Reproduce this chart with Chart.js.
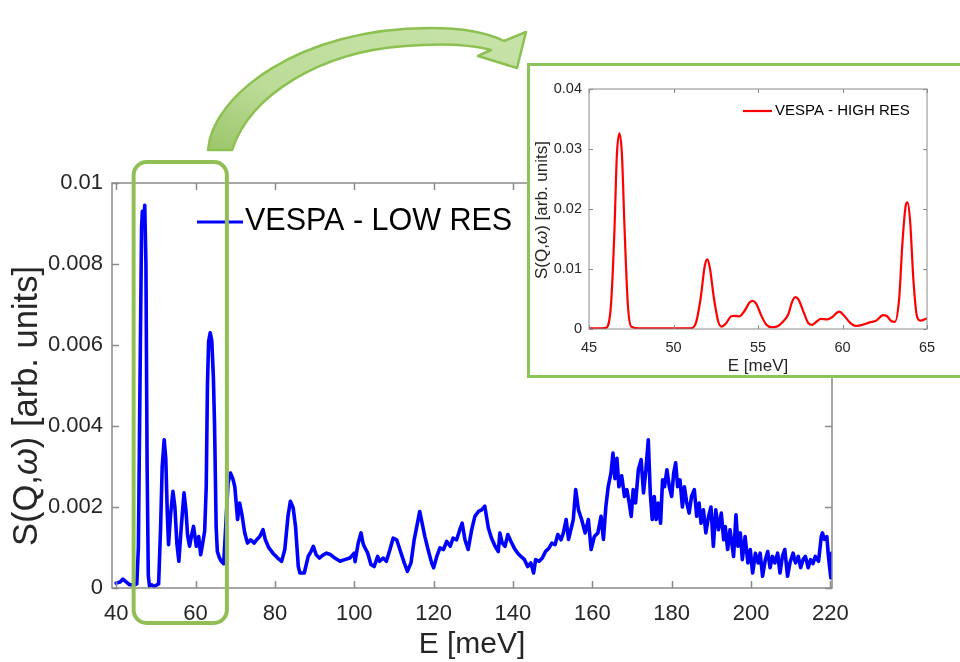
<!DOCTYPE html>
<html><head><meta charset="utf-8">
<script src="https://cdn.jsdelivr.net/npm/chart.js@4.4.1/dist/chart.umd.min.js"></script>
<style>
html,body{margin:0;padding:0;background:#fff;}
#wrap{position:relative;width:960px;height:662px;overflow:hidden;background:#fff;}
#main{position:absolute;left:0;top:0;}
#arrow{position:absolute;left:0;top:0;pointer-events:none;}
#insetBox{position:absolute;left:527px;top:63px;width:436px;height:315px;box-sizing:border-box;border:3px solid #8dc457;background:#fff;}
#inset{position:absolute;left:0;top:0;}
</style></head>
<body><div id="wrap">
<canvas id="main" width="960" height="662"></canvas>
<svg id="arrow" width="960" height="662">
  <defs>
    <linearGradient id="ag" x1="0" y1="1" x2="1" y2="0">
      <stop offset="0" stop-color="#9cc56a"/>
      <stop offset="0.35" stop-color="#bcdc98"/>
      <stop offset="1" stop-color="#c8e3aa"/>
    </linearGradient>
  </defs>
  <path d="M208 150 C212 95 300 28 430 28 C466 28 490 34 504 41 L526 32 L517 68 L478 56 L491 50 C465 43 430 44 405 46 C320 52 250 95 232 150 Z"
        fill="url(#ag)" stroke="#8cc152" stroke-width="2.5" stroke-linejoin="round"/>
</svg>
<div id="insetBox"><canvas id="inset" width="430" height="309"></canvas></div>
</div>
<script>
// ---------- data: low-resolution spectrum (main plot) ----------
const eLow = [40.0,41.0,41.7,42.5,43.4,44.7,45.2,45.6,46.0,46.4,46.6,46.9,47.2,47.5,47.8,48.1,48.4,49.0,49.6,50.3,50.7,51.2,51.6,52.1,52.5,52.9,53.2,53.7,54.3,54.8,55.3,55.8,56.4,57.1,57.6,58.0,58.5,59.0,59.5,60.2,60.8,61.3,61.8,62.3,62.7,63.0,63.3,63.7,64.1,64.5,64.8,65.2,65.5,66.0,66.5,67.1,67.6,68.2,68.8,69.4,69.9,70.6,71.1,71.7,72.4,73.1,73.9,74.8,75.4,76.2,77.0,77.6,78.5,79.5,80.7,81.7,82.5,83.3,83.9,84.6,85.2,85.9,86.3,87.4,88.4,89.1,89.7,90.4,91.2,92.2,93.0,94.1,95.1,96.4,97.6,98.9,100.0,100.2,101.0,101.7,102.2,102.5,103.4,104.2,105.0,105.9,106.4,107.3,108.1,109.0,109.8,110.7,111.5,112.6,113.4,114.3,115.1,116.0,116.5,117.1,117.8,118.6,119.5,120.0,120.8,121.6,122.5,123.3,124.2,124.9,125.8,126.6,127.2,127.9,128.7,129.6,130.4,131.3,132.1,132.9,133.8,134.6,135.5,136.3,136.7,137.3,138.0,138.7,139.5,140.3,141.2,142.0,142.9,143.7,144.5,145.2,145.7,146.6,147.4,148.2,149.1,149.8,150.6,151.3,152.1,152.7,153.4,154.0,154.6,155.2,155.8,156.5,157.3,158.2,159.0,159.7,160.5,161.4,162.2,162.8,163.4,164.0,164.7,165.2,165.7,166.2,166.7,167.4,168.1,168.7,169.3,169.8,170.3,170.9,171.6,172.3,172.9,173.5,174.1,174.6,175.1,175.6,176.1,176.6,177.2,177.7,178.2,178.8,179.4,180.0,180.5,181.0,181.5,182.1,182.7,183.2,183.8,184.4,185.0,185.7,186.3,186.9,187.4,188.0,188.6,189.3,189.9,190.5,191.1,191.8,192.5,193.1,193.5,194.1,194.7,195.6,196.2,196.7,197.3,197.8,198.5,199.2,199.8,200.4,201.1,201.8,202.3,202.9,203.6,204.2,204.8,205.4,206.0,206.7,207.3,207.9,208.5,209.2,209.8,210.6,211.2,211.9,212.5,213.1,213.7,214.4,215.0,215.6,216.2,217.0,217.4,217.7,218.0,218.5,219.1,219.5,220.1,220.3];
const sLow = [0.00012,0.00015,0.00022,0.00015,0.00008,0.00008,0.0001,0.001,0.005,0.0089,0.0093,0.009,0.00945,0.008,0.003,0.0003,0.00005,0.00008,0.00003,0.00008,0.0001,0.0015,0.003,0.00366,0.0032,0.0018,0.00107,0.0018,0.00239,0.002,0.0011,0.00066,0.0015,0.00235,0.0019,0.0013,0.00103,0.0013,0.00152,0.00103,0.00127,0.00082,0.0011,0.0014,0.0025,0.005,0.00609,0.0063,0.0061,0.0052,0.004,0.0015,0.0009,0.00075,0.00066,0.0006,0.0015,0.0026,0.00284,0.0027,0.0025,0.00169,0.0021,0.00181,0.00136,0.00111,0.00119,0.00111,0.00119,0.00127,0.00144,0.00119,0.00099,0.00086,0.00074,0.00066,0.00095,0.00177,0.00214,0.00198,0.00152,0.00053,0.00037,0.00037,0.00078,0.0009,0.00103,0.00082,0.00074,0.00082,0.00086,0.00082,0.00074,0.00066,0.0007,0.00074,0.00086,0.00065,0.00111,0.00136,0.00111,0.00103,0.00086,0.00058,0.00053,0.00078,0.00066,0.00074,0.00066,0.00095,0.00123,0.00119,0.00095,0.00062,0.00041,0.00062,0.00119,0.00164,0.00189,0.0016,0.00127,0.00095,0.00062,0.0005,0.00078,0.00099,0.00095,0.00115,0.00103,0.00123,0.00119,0.00144,0.0016,0.00119,0.00095,0.00144,0.00177,0.00189,0.00193,0.00202,0.00148,0.00123,0.00103,0.0009,0.00136,0.00111,0.00103,0.00132,0.00115,0.00099,0.00086,0.00078,0.0007,0.00053,0.00062,0.00037,0.0007,0.00066,0.00074,0.0009,0.00099,0.00111,0.00107,0.00132,0.00119,0.00136,0.00169,0.0012,0.00144,0.00169,0.00243,0.00193,0.00169,0.00136,0.00169,0.00095,0.00127,0.00136,0.00177,0.0012,0.002,0.0025,0.00284,0.00333,0.0027,0.0032,0.0025,0.00277,0.00226,0.00243,0.0021,0.00177,0.00243,0.0021,0.00292,0.00317,0.00235,0.00292,0.00366,0.00235,0.00169,0.00226,0.00169,0.0021,0.0016,0.00267,0.0025,0.00292,0.0025,0.00226,0.00284,0.00309,0.0025,0.00267,0.002,0.0025,0.0021,0.00185,0.00226,0.00243,0.00177,0.0021,0.0016,0.00193,0.00136,0.00177,0.002,0.00103,0.00193,0.00144,0.00185,0.00119,0.00152,0.00095,0.00144,0.00078,0.00181,0.00103,0.00136,0.0007,0.00127,0.00062,0.00095,0.00037,0.00086,0.00062,0.00086,0.00029,0.0007,0.0009,0.0005,0.00078,0.00062,0.00086,0.00037,0.00078,0.00095,0.00029,0.00062,0.00086,0.00062,0.00078,0.0005,0.0007,0.00078,0.0005,0.0007,0.0006,0.00078,0.00066,0.001,0.00127,0.00136,0.0012,0.00127,0.00078,0.00025,0.00086];
// ---------- data: high-resolution spectrum (inset) ----------
const eHigh = [45.0,45.5,46.0,46.3,46.5,46.65,46.8,46.95,47.1,47.3,47.5,48.0,49.0,50.0,51.0,51.3,51.6,51.85,52.0,52.15,52.4,52.65,52.85,53.1,53.4,53.6,53.9,54.2,54.5,54.7,54.9,55.2,55.5,55.8,56.1,56.5,56.8,57.0,57.2,57.4,57.7,58.0,58.2,58.5,58.7,59.1,59.4,59.8,60.1,60.5,60.8,61.2,61.6,62.0,62.4,62.6,62.9,63.1,63.35,63.55,63.75,63.85,64.0,64.2,64.4,64.6,65.0];
const sHigh = [0.0001,0.0001,0.0002,0.004,0.016,0.029,0.0326,0.029,0.017,0.004,0.0004,0.0001,0.0001,0.0001,0.0001,0.0008,0.005,0.0105,0.0116,0.0102,0.005,0.0012,0.0004,0.0009,0.0021,0.0022,0.0021,0.003,0.0044,0.0047,0.0042,0.0022,0.0007,0.0003,0.0004,0.0013,0.0025,0.0044,0.0053,0.0049,0.0028,0.0009,0.0007,0.0013,0.0017,0.0016,0.002,0.0029,0.0022,0.0009,0.0005,0.0007,0.0011,0.0014,0.0023,0.0022,0.0013,0.0012,0.005,0.0145,0.0207,0.0211,0.018,0.008,0.0022,0.0014,0.0018];
// ---------- ticks, labels ----------
const xTicksMain = [40,60,80,100,120,140,160,180,200,220];
const yTicksMain = [0,0.002,0.004,0.006,0.008,0.01];
const xTicksInset = [45,50,55,60,65];
const yTicksInset = [0,0.01,0.02,0.03,0.04];
const zoomWindow = [44.4, 67.9]; // energy range highlighted by the green box
const labelLow = 'VESPA - LOW RES';
const labelHigh = 'VESPA - HIGH RES';
const xTitle = 'E [meV]';

const FAM = '"Liberation Sans", Arial, Helvetica, sans-serif';
const TXT = '#262626';
const AX = '#8a8a8a';

function fmt(v){ return String(+v.toFixed(4)); }

// Plugin: MATLAB-like box, inward ticks, legend, titles, highlight box
const decor = {
  id: 'decor',
  afterDraw(chart, args, o) {
    const {ctx, chartArea: a, scales: {x, y}} = chart;
    ctx.save();
    ctx.strokeStyle = AX; ctx.lineWidth = o.axW;
    ctx.strokeRect(a.left, a.top, a.right - a.left, a.bottom - a.top);
    ctx.beginPath();
    x.ticks.forEach(t => { const p = Math.round(x.getPixelForValue(t.value)) + 0.5;
      ctx.moveTo(p, a.bottom); ctx.lineTo(p, a.bottom - o.tl);
      ctx.moveTo(p, a.top); ctx.lineTo(p, a.top + o.tl); });
    y.ticks.forEach(t => { const p = Math.round(y.getPixelForValue(t.value)) + 0.5;
      ctx.moveTo(a.left, p); ctx.lineTo(a.left + o.tl, p);
      ctx.moveTo(a.right, p); ctx.lineTo(a.right - o.tl, p); });
    ctx.stroke();
    // legend
    const ds = chart.data.datasets[0];
    ctx.strokeStyle = ds.borderColor; ctx.lineWidth = o.leg.lw;
    ctx.beginPath(); ctx.moveTo(o.leg.x1, o.leg.y); ctx.lineTo(o.leg.x2, o.leg.y); ctx.stroke();
    ctx.fillStyle = '#000'; ctx.font = o.leg.size + 'px ' + FAM;
    ctx.textBaseline = 'middle'; ctx.textAlign = 'left';
    ctx.fillText(ds.label, o.leg.x2 + o.leg.gap, o.leg.y);
    // x title
    ctx.fillStyle = TXT; ctx.textAlign = 'center';
    ctx.font = o.xt.size + 'px ' + FAM;
    ctx.fillText(xTitle, (a.left + a.right) / 2, o.xt.y);
    // y title with italic omega
    ctx.save();
    ctx.translate(o.yt.x, o.yt.y); ctx.rotate(-Math.PI / 2);
    const parts = [['S(Q,', ''], ['\u03c9', 'italic '], [') [arb. units]', '']];
    let w = 0;
    parts.forEach(p => { ctx.font = p[1] + o.yt.size + 'px ' + FAM; w += ctx.measureText(p[0]).width; });
    let cx = -w / 2; ctx.textAlign = 'left';
    parts.forEach(p => { ctx.font = p[1] + o.yt.size + 'px ' + FAM; ctx.fillText(p[0], cx, 0); cx += ctx.measureText(p[0]).width; });
    ctx.restore();
    // highlight box
    if (o.hl) {
      const x1 = x.getPixelForValue(zoomWindow[0]), x2 = x.getPixelForValue(zoomWindow[1]);
      const y1 = a.top - o.hl.above, y2 = a.bottom + o.hl.below, r = o.hl.r;
      ctx.strokeStyle = o.hl.color; ctx.lineWidth = o.hl.w;
      ctx.beginPath();
      ctx.moveTo(x1 + r, y1); ctx.lineTo(x2 - r, y1); ctx.arcTo(x2, y1, x2, y1 + r, r);
      ctx.lineTo(x2, y2 - r); ctx.arcTo(x2, y2, x2 - r, y2, r);
      ctx.lineTo(x1 + r, y2); ctx.arcTo(x1, y2, x1, y2 - r, r);
      ctx.lineTo(x1, y1 + r); ctx.arcTo(x1, y1, x1 + r, y1, r);
      ctx.closePath(); ctx.stroke();
    }
    ctx.restore();
  }
};

function axisCommon(ticksArr, size, pad, fit, isX) {
  return {
    type: 'linear',
    afterBuildTicks: s => { s.ticks = ticksArr.map(v => ({value: v})); },
    afterFit: s => { if (isX) s.height = fit; else s.width = fit; },
    grid: {display: false, drawTicks: false},
    border: {display: false},
    ticks: {padding: pad, color: TXT, font: {family: FAM, size: size}, maxRotation: 0, autoSkip: false,
            callback: v => fmt(v)}
  };
}

const mainX = axisCommon(xTicksMain, 22, 13, 74, true); mainX.min = 38.95; mainX.max = 220.4;
const mainY = axisCommon(yTicksMain, 22, 9, 112, false); mainY.min = 0; mainY.max = 0.01;

new Chart(document.getElementById('main'), {
  type: 'line',
  data: {datasets: [{label: labelLow, data: eLow.map((e, i) => ({x: e, y: sLow[i]})),
    borderColor: '#0000ff', borderWidth: 3.6, borderJoinStyle: 'round', borderCapStyle: 'round',
    pointRadius: 0, tension: 0, fill: false}]},
  options: {
    responsive: false, animation: false, devicePixelRatio: 1,
    layout: {padding: {left: 0, top: 183, right: 128, bottom: 0}},
    plugins: {legend: {display: false}, tooltip: {enabled: false},
      decor: {axW: 1.5, tl: 7,
        leg: {x1: 197, x2: 243, y: 222, gap: 2, size: 30.5, lw: 3},
        xt: {y: 645, size: 30},
        yt: {x: 27, y: 406, size: 34.5},
        hl: {above: 21, below: 35, r: 13, w: 4, color: '#92bf55'}}},
    scales: {x: mainX, y: mainY}
  },
  plugins: [decor]
});

const inX = axisCommon(xTicksInset, 14.5, 10, 46, true); inX.min = 45; inX.max = 65;
const inY = axisCommon(yTicksInset, 14.5, 7, 59, false); inY.min = 0; inY.max = 0.04;

new Chart(document.getElementById('inset'), {
  type: 'line',
  data: {datasets: [{label: labelHigh, data: eHigh.map((e, i) => ({x: e, y: sHigh[i]})),
    borderColor: '#ff0000', borderWidth: 2.2, pointRadius: 0, cubicInterpolationMode: 'monotone', fill: false}]},
  options: {
    responsive: false, animation: false, devicePixelRatio: 1,
    layout: {padding: {left: 0, top: 23, right: 33, bottom: 0}},
    plugins: {legend: {display: false}, tooltip: {enabled: false},
      decor: {axW: 1, tl: 4,
        leg: {x1: 213, x2: 242, y: 45, gap: 3, size: 15, lw: 2.2},
        xt: {y: 300, size: 17},
        yt: {x: 12, y: 144, size: 17}}},
    scales: {x: inX, y: inY}
  },
  plugins: [decor]
});
</script>
</body></html>
